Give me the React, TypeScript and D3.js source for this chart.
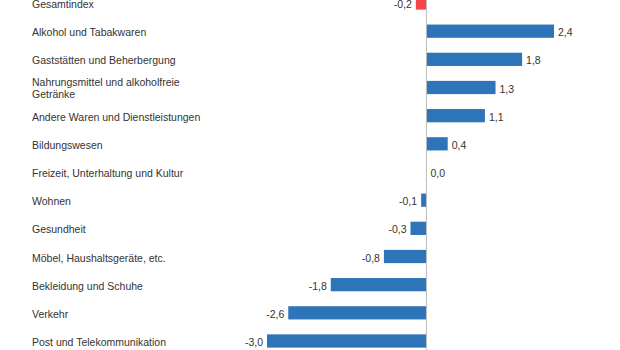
import React from 'react'
import * as d3 from 'd3'

const categories = [
  'Gesamtindex',
  'Alkohol und Tabakwaren',
  'Gaststätten und Beherbergung',
  'Nahrungsmittel und alkoholfreie|Getränke',
  'Andere Waren und Dienstleistungen',
  'Bildungswesen',
  'Freizeit, Unterhaltung und Kultur',
  'Wohnen',
  'Gesundheit',
  'Möbel, Haushaltsgeräte, etc.',
  'Bekleidung und Schuhe',
  'Verkehr',
  'Post und Telekommunikation',
]
const values = [-0.2, 2.4, 1.8, 1.3, 1.1, 0.4, 0.0, -0.1, -0.3, -0.8, -1.8, -2.6, -3.0]

const width = 620
const height = 350
const blue = '#2e74b8'
const red = '#f4434b'
const font = '"Liberation Sans", Arial, sans-serif'

export default function App() {
  const step = (341 - 3) / (categories.length - 1)
  const y = d3.scaleBand<string>()
    .domain(categories)
    .range([3 - step / 2, 341 + step / 2])
    .paddingInner(0.53)
    .paddingOuter(0.265)

  const x = d3.scaleLinear().domain([-3, 2.4]).range([267, 554])
  const fmt = (v: number) => v.toFixed(1).replace('.', ',')

  return (
    <div style={{ position: 'absolute', left: 0, top: 0 }}>
      <svg width={width} height={height} style={{ display: 'block', fontFamily: font }}>
        <rect width={width} height={height} fill="#fff" />
        {categories.map((c, i) => {
          const v = values[i]
          const by = y(c) as number
          const cy = by + y.bandwidth() / 2
          const lines = c.split('|')
          const x0 = x(Math.min(0, v))
          const x1 = x(Math.max(0, v))
          return (
            <g key={c}>
              <text x={32} y={lines.length > 1 ? cy - 1.5 : cy + 5} fontSize={10.5} fill="#333">
                {lines.map((l, j) => (
                  <tspan key={j} x={32} dy={j === 0 ? 0 : 12.3}>{l}</tspan>
                ))}
              </text>
              {v !== 0 && (
                <rect x={x0} y={by} width={x1 - x0} height={y.bandwidth()} fill={i === 0 ? red : blue} />
              )}
              <text
                x={v < 0 ? x0 - 4 : x1 + 4}
                y={cy + 5}
                fontSize={10.5}
                fill="#333"
                textAnchor={v < 0 ? 'end' : 'start'}
              >
                {fmt(v)}
              </text>
            </g>
          )
        })}
        <line x1={x(0)} x2={x(0)} y1={0} y2={height} stroke="#bbb" strokeWidth={1} />
      </svg>
    </div>
  )
}
